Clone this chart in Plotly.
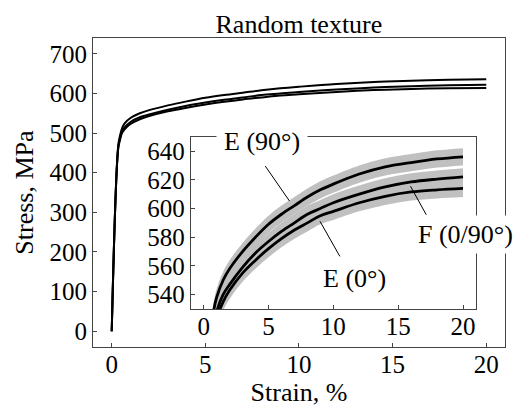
import plotly.graph_objects as go

# ---- data ----
strain = [0, 0.35, 0.45, 0.55, 0.7, 1.0, 1.5, 2, 3, 4, 5, 6, 7, 8, 9, 10, 12, 14, 16, 18, 20]
stress_e90 = [0, 470, 495, 512, 525, 538, 550, 558, 570, 580, 589, 596, 602, 608, 613, 617, 624, 629, 632, 634.5, 636]
stress_f   = [0, 465, 488, 504, 515, 528, 540, 547, 559, 569, 577, 584, 590, 596, 600, 604, 610, 615, 618.5, 620.5, 622]
stress_e0  = [0, 462, 484, 500, 510, 523, 535, 543, 555, 564, 572, 579, 585, 590, 595, 598, 604, 608.5, 611.5, 613, 614]
band_half = 6  # MPa, half-width of the grey scatter band

main_xticks = [0, 5, 10, 15, 20]
main_yticks = [0, 100, 200, 300, 400, 500, 600, 700]
inset_xticks = [0, 5, 10, 15, 20]
inset_yticks = [540, 560, 580, 600, 620, 640]

FONT = "Liberation Serif, Times New Roman, DejaVu Serif, serif"
BAND_COLOR = "#c0c0c0"
AX_COLOR = "#444444"
SMOOTH = 1.0

curves = [stress_e90, stress_f, stress_e0]

fig = go.Figure()

# main plot curves
for s in curves:
    fig.add_trace(go.Scatter(x=strain, y=s, mode="lines", line=dict(color="black", width=2, shape="spline", smoothing=SMOOTH),
                             xaxis="x", yaxis="y", showlegend=False, hoverinfo="skip"))

# inset grey bands
for s in curves:
    lo = [v - band_half for v in s]
    hi = [v + band_half for v in s]
    fig.add_trace(go.Scatter(x=strain, y=lo, mode="lines", line=dict(width=0, shape="spline", smoothing=SMOOTH),
                             xaxis="x2", yaxis="y2", showlegend=False, hoverinfo="skip"))
    fig.add_trace(go.Scatter(x=strain, y=hi, mode="lines", line=dict(width=0, shape="spline", smoothing=SMOOTH),
                             fill="tonexty", fillcolor=BAND_COLOR,
                             xaxis="x2", yaxis="y2", showlegend=False, hoverinfo="skip"))

# inset black curves
for s in curves:
    fig.add_trace(go.Scatter(x=strain, y=s, mode="lines", line=dict(color="black", width=2.8, shape="spline", smoothing=SMOOTH),
                             xaxis="x2", yaxis="y2", showlegend=False, hoverinfo="skip"))

tickfont = dict(family=FONT, size=25, color="black")
axis_common = dict(showline=True, mirror=True, linecolor=AX_COLOR, linewidth=1, ticks="inside", ticklen=4,
                   tickcolor=AX_COLOR, showgrid=False, zeroline=False, tickfont=tickfont)

fig.update_layout(
    width=519, height=407, margin=dict(l=0, r=0, t=0, b=0),
    paper_bgcolor="white", plot_bgcolor="white",
    font=dict(family=FONT, color="black"),
    title=dict(text="Random texture", x=0.576, xanchor="center", y=0.942, yanchor="middle",
               font=dict(family=FONT, size=26, color="black")),
    xaxis=dict(domain=[0.1792, 0.973], range=[-1, 21], tickvals=main_xticks, anchor="y",
               ticklabelstandoff=-5,
               title=dict(text="Strain, %", font=dict(family=FONT, size=26, color="black"), standoff=2),
               **axis_common),
    yaxis=dict(domain=[0.1474, 0.9066], range=[-40, 740], tickvals=main_yticks, anchor="x",
               title=dict(text="Stress, MPa", font=dict(family=FONT, size=26, color="black"), standoff=8),
               **axis_common),
    xaxis2=dict(domain=[0.3674, 0.9171], range=[-1, 21], tickvals=inset_xticks, anchor="y2",
                ticklabelstandoff=-5, **axis_common),
    yaxis2=dict(domain=[0.2408, 0.6641], range=[530, 650], tickvals=inset_yticks, anchor="x2", **axis_common),
)

label_font = dict(family=FONT, size=26, color="black")
labels = [
    dict(text="E (90°)", x=4.5, y=646.6, borderpad=7),
    dict(text="E (0°)", x=11.67, y=551.1, borderpad=2),
    dict(text="F (0/90°)", x=20.21, y=581.8, borderpad=4),
]
for lab in labels:
    fig.add_annotation(text=lab["text"], x=lab["x"], y=lab["y"], xref="x2", yref="y2", showarrow=False,
                       font=label_font, bgcolor="white", borderpad=lab["borderpad"], xanchor="center", yanchor="middle")

leaders = [
    dict(x=6.62, y=605.2, ax=4.67, ay=630.6),
    dict(x=8.97, y=591.1, ax=10.57, ay=565.6),
    dict(x=15.95, y=615.5, ax=17.23, ay=594.6),
]
for ld in leaders:
    fig.add_annotation(text="", x=ld["x"], y=ld["y"], ax=ld["ax"], ay=ld["ay"], xref="x2", yref="y2",
                       axref="x2", ayref="y2", showarrow=True, arrowhead=0, arrowwidth=1, arrowcolor="black")

fig.write_html("out.html")
